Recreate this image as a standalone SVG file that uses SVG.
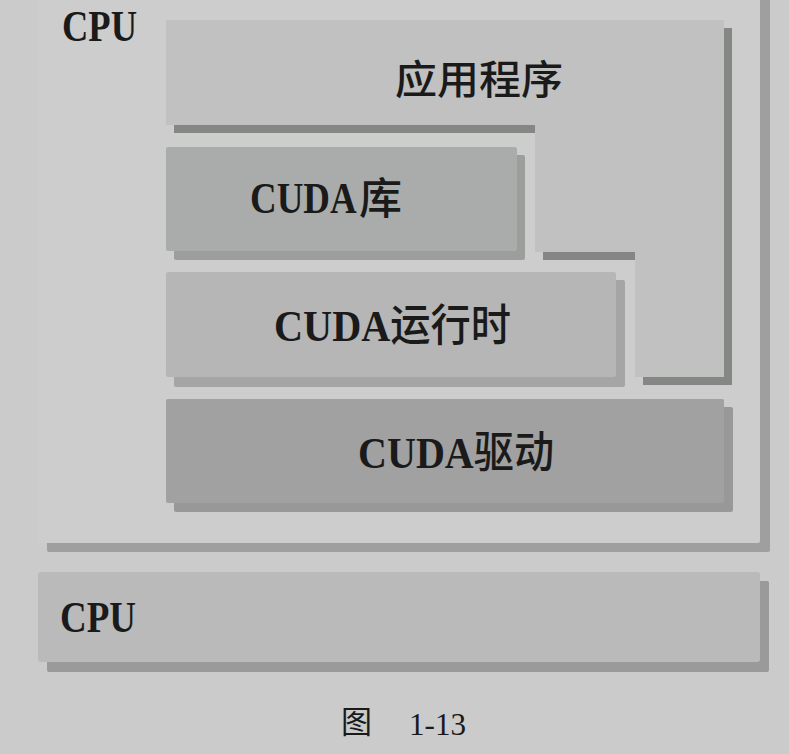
<svg xmlns="http://www.w3.org/2000/svg" width="789" height="754" viewBox="0 0 789 754">
<style>
.lat{font-family:"Liberation Serif","Times New Roman",serif;font-weight:bold;fill:#1a1a1a}
.cjk{font-family:"Noto Sans CJK SC","Noto Sans",sans-serif;font-weight:500;fill:#1a1a1a}
.cap{font-family:"Liberation Serif","Times New Roman",serif;fill:#1a1a1a}
.capc{font-family:"Noto Sans CJK SC",sans-serif;fill:#1a1a1a}
</style>
<rect x="0" y="0" width="789" height="754" fill="#cbcbcb"/>
<g id="cpu-host">
  <rect x="47" y="-2" width="723" height="554" rx="2" fill="#9e9f9e"/>
  <rect x="38" y="-10" width="722" height="553" rx="2" fill="#cdcdcd"/>
  <text class="lat" x="62" y="41" font-size="44" textLength="75" lengthAdjust="spacingAndGlyphs">CPU</text>
</g>
<g id="app">
  <path d="M174,28 H732 V385 H643 V260 H543 V133 H174 Z" fill="#858785"/>
  <path d="M166,20 H724 V377 H635 V252 H535 V125 H166 Z" fill="#c0c1c0"/>
  <text class="cjk" x="395" y="94" font-size="40" textLength="168" lengthAdjust="spacingAndGlyphs">应用程序</text>
</g>
<g id="cuda-lib">
  <rect x="174" y="155" width="351" height="105" rx="2" fill="#9c9e9c"/>
  <rect x="166" y="147" width="351" height="104" rx="2" fill="#aaacab"/>
  <text class="lat" transform="translate(250,213) scale(0.84,1)" x="0" y="0" font-size="44">CUDA</text>
  <text class="cjk" x="359" y="214" font-size="43">库</text>
</g>
<g id="cuda-runtime">
  <rect x="174" y="280" width="451" height="107" rx="2" fill="#a4a5a4"/>
  <rect x="166" y="272" width="450" height="105" rx="2" fill="#b5b6b5"/>
  <text x="274" y="341" font-size="44" textLength="237" lengthAdjust="spacingAndGlyphs"><tspan class="lat">CUDA</tspan><tspan class="cjk">运行时</tspan></text>
</g>
<g id="cuda-driver">
  <rect x="174" y="407" width="559" height="105" rx="2" fill="#979897"/>
  <rect x="166" y="399" width="558" height="104" rx="2" fill="#a0a1a0"/>
  <text x="358" y="468" font-size="44" textLength="196" lengthAdjust="spacingAndGlyphs"><tspan class="lat">CUDA</tspan><tspan class="cjk">驱动</tspan></text>
</g>
<g id="cpu-device">
  <rect x="47" y="581" width="722" height="91" rx="2" fill="#999a99"/>
  <rect x="38" y="572" width="722" height="90" rx="3" fill="#b9bab9"/>
  <text class="lat" x="60" y="632" font-size="44" textLength="76" lengthAdjust="spacingAndGlyphs">CPU</text>
</g>
<g id="connectors"></g>
<g id="caption">
  <text class="capc" x="341" y="733" font-size="31">图</text>
  <text class="cap" x="409" y="735" font-size="32" textLength="57" lengthAdjust="spacingAndGlyphs">1-13</text>
</g>
</svg>
